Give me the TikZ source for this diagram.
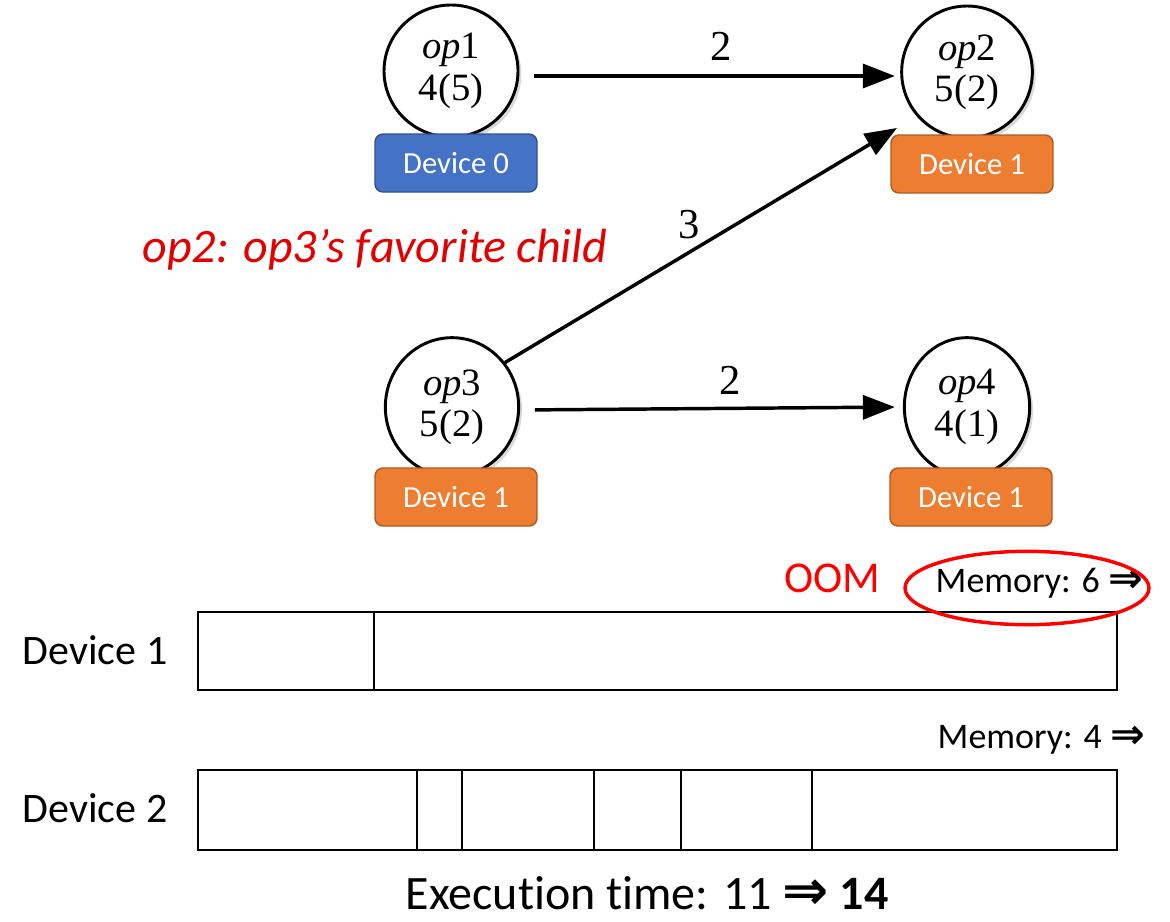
\documentclass[tikz,border=0pt]{standalone}
\usepackage{fontspec}
\setmainfont{Carlito}[Ligatures=NoCommon]
\newfontfamily\symfont{DejaVu Sans}
\newfontfamily\serif{Liberation Serif}
\usetikzlibrary{arrows.meta,shapes.geometric,shadows}
\definecolor{devblue}{RGB}{68,114,196}
\definecolor{devblueline}{RGB}{47,82,143}
\definecolor{devorange}{RGB}{237,125,49}
\definecolor{devorangeline}{RGB}{174,90,33}
\definecolor{oomred}{RGB}{255,0,0}
\definecolor{notered}{RGB}{226,0,0}
\newcommand\thenarrow{{\symfont\bfseries\fontsize{1.15em}{1em}\selectfont ⇒}}
\newcommand\opname[1]{\textit{op}#1}
\tikzset{
  opnode/.style={ellipse, draw, line width=2.2pt, fill=white, inner sep=0pt,
    align=center, font=\serif\fontsize{29}{31}\selectfont,
    drop shadow={shadow xshift=2.5pt, shadow yshift=-2.5pt, opacity=0.3}},
  devbox/.style={draw, rounded corners=6pt, line width=1.1pt, text=white,
    minimum width=121.5pt, minimum height=43.5pt, inner sep=0pt,
    font=\fontsize{23}{26}\selectfont},
  dev0/.style={devbox, fill=devblue, draw=devblueline},
  dev1/.style={devbox, fill=devorange, draw=devorangeline},
  flow/.style={line width=2.6pt, -{Triangle[length=24pt,width=18pt]}},
  weight/.style={inner sep=0pt, font=\serif\fontsize{32}{34}\selectfont},
  lane/.style={line width=1.8pt},
  slot/.style={line width=1.4pt},
  rowlabel/.style={inner sep=0pt, font=\fontsize{31.5}{36}\selectfont},
  memlabel/.style={inner sep=0pt, font=\fontsize{27}{30}\selectfont},
}
\begin{document}
\begin{tikzpicture}[x=0.75pt,y=-0.75pt]
\useasboundingbox (0,0) rectangle (1170,921);

% operators
\node[opnode, minimum width=100.5pt, minimum height=99pt] (op1) at (451,71) {\opname{1}\\4(5)};
\node[opnode, minimum width=98pt, minimum height=99pt] (op2) at (967,72) {\opname{2}\\5(2)};
\node[opnode, minimum width=100pt, minimum height=104pt] (op3) at (452,407) {\opname{3}\\5(2)};
\node[opnode, minimum width=94pt, minimum height=104pt] (op4) at (967,407) {\opname{4}\\4(1)};

% data dependencies
\draw[flow, shorten <=11pt, shorten >=4pt] (op1.east |- 0,76) -- (op2.west |- 0,76)
  node[weight, pos=0.53, above=10pt] (w12) {2};
\draw[flow] (op3.40) -- ([shift={(-70,56)}]op2.center)
  node[weight, pos=0.47, above=9pt] (w32) {3};
\draw[flow, shorten <=11pt, shorten >=6pt] (op3.east |- 0,410) -- (op4.west |- 0,407)
  node[weight, pos=0.55, above=9pt] (w34) {2};

% device placements
\node[dev0] (d0) at (456,163) {Device 0};
\node[dev1] (d1a) at (972,164) {Device 1};
\node[dev1] (d1b) at (456,497) {Device 1};
\node[dev1] (d1c) at (971,497) {Device 1};

\node[inner sep=0pt, text=notered, font=\fontsize{36}{40}\itshape\selectfont] (note) at (375,250)
  {op2: op3’s favorite\hspace{0.2em}child};

% device timelines
\node[rowlabel] (lab1) at (95,650) {Device 1};
\node[rowlabel] (lab2) at (95,808) {Device 2};
\draw[lane] (198,612) rectangle (1117,690);
\draw[slot] (374,612) -- (374,690);
\draw[lane] (198,770) rectangle (1117,850);
\foreach \x in {417,462,594,681,812} \draw[slot] (\x,770) -- (\x,850);

\node[memlabel, anchor=east] (mem1) at (1143,583) {Memory: 6 \thenarrow};
\node[memlabel, anchor=east] (mem2) at (1145,740) {Memory: 4 \thenarrow};
\node[ellipse, draw=oomred, line width=2.6pt, minimum width=183pt, minimum height=55pt] (ring) at (1027,588) {};
\node[inner sep=0pt, text=oomred, font=\fontsize{33}{38}\selectfont] (oom) at (832,578) {OOM};

\node[inner sep=0pt, font=\fontsize{36}{40}\selectfont] (exec) at (647,893)
  {Execution time: 11 \thenarrow\ \textbf{14}};
\end{tikzpicture}
\end{document}
